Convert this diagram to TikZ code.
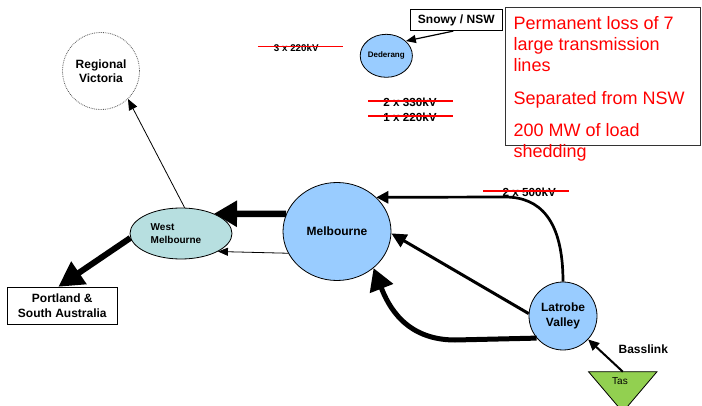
\documentclass[tikz,border=0pt]{standalone}
\usepackage{fontspec}
\setmainfont{Liberation Sans}
\usepackage{xcolor}
\usetikzlibrary{shapes.geometric,arrows.meta}

\definecolor{hubblue}{RGB}{153,204,255}
\definecolor{westteal}{RGB}{183,223,224}
\definecolor{tasgreen}{RGB}{146,208,80}

\tikzset{
  hub/.style={ellipse,draw,line width=0.8pt,fill=hubblue,align=center,inner sep=0pt,font=\bfseries\fontsize{12}{15}\selectfont},
  plainbox/.style={rectangle,draw,line width=0.8pt,align=center,inner sep=0pt,font=\bfseries\fontsize{12}{15}\selectfont},
  kv/.style={inner sep=0pt,font=\bfseries\fontsize{11.7}{14}\selectfont},
  strike/.style={red,line width=1.3pt},
  flow/.style={line width=2.7pt,-{Triangle[length=12pt,width=12pt]}},
  bigflow/.style={line width=6pt,-{Triangle[length=23pt,width=25pt]}},
  thinflow/.style={line width=0.8pt,-{Triangle[length=10pt,width=8pt]}}
}

\begin{document}
\begin{tikzpicture}[x=1pt,y=-1pt]
                \useasboundingbox (0,0) rectangle (702,406);

                \node[hub,minimum width=108pt,minimum height=98pt] (mel) at (337,231.5) {Melbourne};
                \node[hub,minimum size=68pt] (lv) at (563,316) {Latrobe\\Valley};
                \node[hub,minimum size=43pt,font=\bfseries\fontsize{8}{9}\selectfont] (ded) at (386.3,55.8) {Dederang};
                \node[hub,fill=westteal,minimum width=102pt,minimum height=51pt,align=left,font=\bfseries\fontsize{10}{13}\selectfont] (wm) at (181,233.5) {West\\Melbourne\hspace*{10pt}};
                \node[circle,draw=gray!70!black,densely dotted,line width=0.8pt,minimum size=77pt,align=center,inner sep=0pt,font=\bfseries\fontsize{12}{14.4}\selectfont] (rv) at (101,71) {Regional\\Victoria};

                \node[plainbox,minimum width=110pt,minimum height=37pt] (port) at (62.3,305.7) {Portland \&\\South Australia};
                \node[plainbox,minimum width=92.7pt,minimum height=21.4pt] (snowy) at (456.3,20) {Snowy / NSW};

                \filldraw[fill=tasgreen,line width=0.8pt] (588.5,371.7) -- (657,371.7) -- (622.8,412) -- cycle;
                \coordinate (tastop) at (622.8,371.7);
                \node[font=\fontsize{10}{12}\selectfont] (tas) at (620,381.5) {Tas};
                \node[font=\bfseries\fontsize{12}{14}\selectfont,inner sep=0pt] (bass) at (643.3,349) {Basslink};

                \node[draw=gray!40!black,line width=1pt,minimum width=195pt,minimum height=137.7pt,anchor=north west,inner sep=0pt] (notebox) at (505,7.3) {};
                \node[anchor=north west,align=left,inner sep=0pt,text=red,font=\fontsize{18}{21}\selectfont] (note) at (513.3,15.9)
                    {Permanent loss of 7\\large transmission\\lines\\[12pt]Separated from NSW\\[11pt]200 MW of load\\shedding};

                \node[kv,font=\bfseries\fontsize{9.8}{12}\selectfont] (kva) at (296.3,48.3) {3 x 220kV};
                \node[kv] (kvb) at (410,102.8) {2 x 330kV};
                \node[kv] (kvc) at (410,117.5) {1 x 220kV};
                \node[kv] (kvd) at (529.3,192.7) {2 x 500kV};
                \draw[strike] ([xshift=-38.5pt,yshift=1.5pt]kva.center) -- ([xshift=46.5pt,yshift=1.5pt]kva.center)
                              ([xshift=-42pt,yshift=1.8pt]kvb.center) -- ([xshift=43pt,yshift=1.8pt]kvb.center)
                              ([xshift=-42pt,yshift=1.5pt]kvc.center) -- ([xshift=43pt,yshift=1.5pt]kvc.center)
                              ([xshift=-46pt,yshift=1.7pt]kvd.center) -- ([xshift=40pt,yshift=1.7pt]kvd.center);

                \draw[thinflow,line width=1.2pt] ([xshift=-3pt]snowy.south) -- (ded.37);
                \draw[thinflow,-{Triangle[length=11pt,width=9pt]}] (wm.82) -- (rv.-46);
                \draw[bigflow,line width=6.5pt] (mel.161) -- (wm.31);
                \draw[thinflow] (mel.204) -- (wm.334);
                \draw[bigflow,-{Triangle[length=25pt,width=26pt]}] (wm.185) -- ([xshift=-4pt]port.north);

                \draw[flow] (lv.north) .. controls (563,220) and (540,197) .. (505,197) -- (mel.41);
                \draw[flow,line width=3pt,-{Triangle[length=15pt,width=14pt]}] (lv.176) -- (mel.358);
                \draw[bigflow,line width=5pt,-{Triangle[length=22pt,width=24pt]}] (lv.220) -- (455,340) .. controls (405,340) and (388,305) .. (mel.-45);
                \draw[flow,line width=2pt,-{Triangle[length=11pt,width=10pt]}] (tastop) -- (lv);
            \end{tikzpicture}
\end{document}
